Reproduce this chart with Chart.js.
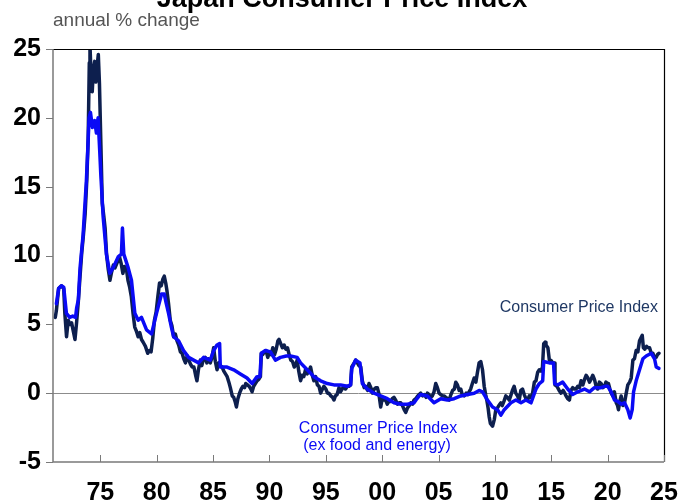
<!DOCTYPE html>
<html>
<head>
<meta charset="UTF-8">
<title>Japan Consumer Price Index</title>
<style>
  html, body { margin: 0; padding: 0; background: #fff; }
  #wrap { width: 678px; height: 501px; position: relative; }
</style>
</head>
<body>
<div id="wrap"><canvas id="cpiChart" width="678" height="501"></canvas></div>
<script src="https://cdn.jsdelivr.net/npm/chart.js@4/dist/chart.umd.min.js"></script>
<script>
// headline CPI, annual % change
const cpiDates = [
  1971.0, 1971.1, 1971.3, 1971.55, 1971.75, 1971.85, 1972.0, 1972.15, 1972.3, 1972.45, 1972.6, 1972.75, 1972.9,
  1973.05, 1973.2, 1973.35, 1973.5, 1973.65, 1973.8, 1973.92, 1974.02, 1974.08, 1974.18, 1974.28, 1974.38, 1974.5,
  1974.6, 1974.72, 1974.82, 1974.92, 1975.05, 1975.17, 1975.3, 1975.42, 1975.55, 1975.7, 1975.85, 1976.0, 1976.15,
  1976.3, 1976.5, 1976.7, 1976.85, 1977.0, 1977.15, 1977.3, 1977.45, 1977.6, 1977.75, 1977.9, 1978.05, 1978.2,
  1978.35, 1978.5, 1978.65, 1978.8, 1979.0, 1979.2, 1979.35, 1979.5, 1979.65, 1979.8, 1979.95, 1980.1, 1980.25,
  1980.4, 1980.55, 1980.67, 1980.8, 1980.9, 1981.05, 1981.2, 1981.35, 1981.5, 1981.65, 1981.8, 1981.95, 1982.1,
  1982.25, 1982.4, 1982.55, 1982.7, 1982.85, 1983.0, 1983.15, 1983.3, 1983.45, 1983.57, 1983.7, 1983.87, 1984.0,
  1984.15, 1984.3, 1984.45, 1984.6, 1984.75, 1984.9, 1985.05, 1985.2, 1985.35, 1985.5, 1985.65, 1985.8, 1985.95,
  1986.1, 1986.25, 1986.4, 1986.53, 1986.7, 1986.83, 1986.95, 1987.07, 1987.2, 1987.35, 1987.5, 1987.65, 1987.8,
  1987.9, 1988.05, 1988.2, 1988.35, 1988.46, 1988.6, 1988.75, 1988.9, 1989.05, 1989.2, 1989.28, 1989.4, 1989.55,
  1989.7, 1989.85, 1990.0, 1990.15, 1990.3, 1990.45, 1990.6, 1990.75, 1990.85, 1991.0, 1991.15, 1991.3, 1991.45,
  1991.6, 1991.75, 1991.9, 1992.05, 1992.2, 1992.35, 1992.46, 1992.6, 1992.76, 1992.9, 1993.05, 1993.2, 1993.35,
  1993.5, 1993.65, 1993.8, 1993.94, 1994.1, 1994.25, 1994.4, 1994.54, 1994.7, 1994.83, 1995.0, 1995.15, 1995.28,
  1995.45, 1995.6, 1995.72, 1995.85, 1996.0, 1996.17, 1996.3, 1996.45, 1996.61, 1996.75, 1996.9, 1997.05, 1997.2,
  1997.3, 1997.45, 1997.65, 1997.8, 1997.94, 1998.1, 1998.24, 1998.4, 1998.54, 1998.7, 1998.83, 1999.0, 1999.13,
  1999.3, 1999.45, 1999.57, 1999.7, 1999.87, 2000.0, 2000.15, 2000.31, 2000.45, 2000.6, 2000.76, 2000.9, 2001.05,
  2001.2, 2001.35, 2001.5, 2001.65, 2001.8, 2001.95, 2002.09, 2002.23, 2002.4, 2002.54, 2002.7, 2002.82, 2002.98,
  2003.15, 2003.28, 2003.42, 2003.6, 2003.75, 2003.9, 2004.01, 2004.15, 2004.3, 2004.45, 2004.6, 2004.75, 2004.9,
  2005.05, 2005.2, 2005.35, 2005.49, 2005.65, 2005.8, 2005.94, 2006.1, 2006.25, 2006.4, 2006.53, 2006.68, 2006.83,
  2006.97, 2007.1, 2007.27, 2007.45, 2007.6, 2007.71, 2007.85, 2008.0, 2008.16, 2008.31, 2008.45, 2008.6, 2008.75,
  2008.9, 2009.05, 2009.18, 2009.28, 2009.4, 2009.49, 2009.6, 2009.79, 2009.95, 2010.08, 2010.2, 2010.35, 2010.53,
  2010.65, 2010.8, 2010.97, 2011.1, 2011.27, 2011.4, 2011.55, 2011.71, 2011.85, 2012.0, 2012.16, 2012.3, 2012.45,
  2012.6, 2012.75, 2012.9, 2013.05, 2013.2, 2013.34, 2013.5, 2013.64, 2013.79, 2013.94, 2014.09, 2014.22, 2014.33,
  2014.45, 2014.53, 2014.7, 2014.83, 2014.95, 2015.13, 2015.28, 2015.33, 2015.5, 2015.7, 2015.87, 2016.05, 2016.2,
  2016.31, 2016.45, 2016.61, 2016.75, 2016.9, 2017.05, 2017.2, 2017.35, 2017.5, 2017.64, 2017.8, 2017.95, 2018.09,
  2018.25, 2018.39, 2018.52, 2018.68, 2018.83, 2018.98, 2019.12, 2019.27, 2019.42, 2019.57, 2019.72, 2019.85,
  2020.0, 2020.07, 2020.2, 2020.32, 2020.46, 2020.6, 2020.76, 2020.88, 2020.96, 2021.08, 2021.2, 2021.35, 2021.5,
  2021.65, 2021.79, 2021.95, 2022.09, 2022.24, 2022.38, 2022.53, 2022.68, 2022.83, 2022.95, 2023.07, 2023.17,
  2023.3, 2023.45, 2023.6, 2023.72, 2023.87, 2024.01, 2024.15, 2024.31, 2024.42, 2024.55
];
const cpiValues = [
  5.5, 6.0, 7.6, 7.8, 7.6, 5.8, 4.1, 5.3, 5.0, 5.1, 4.5, 3.9, 5.2,
  6.7, 8.5, 10.2, 11.5, 13.0, 15.5, 18.5, 24.0, 25.3, 23.0, 21.9, 23.5, 24.1,
  22.6, 23.8, 24.6, 22.5, 18.0, 13.8, 12.9, 12.0, 10.1, 9.0, 8.2, 8.8, 9.3,
  9.1, 9.5, 9.9, 9.4, 8.7, 9.2, 9.1, 8.2, 7.7, 7.0, 5.8, 4.8, 4.5,
  4.1, 4.4, 3.9, 3.7, 3.4, 2.9, 3.1, 3.0, 4.0, 5.3, 5.9, 7.0, 8.0,
  7.8, 8.3, 8.5, 8.0, 7.5, 6.5, 5.3, 4.9, 4.1, 4.3, 3.8, 3.5, 3.0,
  2.9, 2.5, 2.2, 2.7, 2.4, 2.1, 1.9, 1.9, 1.3, 0.9, 1.7, 2.4, 2.0,
  2.5, 2.6, 2.2, 2.5, 2.2, 2.6, 3.3, 2.3, 1.7, 2.2, 2.0, 1.9, 1.6,
  1.4, 1.2, 0.8, 0.4, -0.2, -0.3, -0.6, -1.0, -0.4, 0.0, 0.3, 0.5, 0.4,
  0.7, 0.6, 0.5, 0.3, 0.1, 0.5, 0.7, 0.9, 1.0, 1.2, 2.9, 2.8, 3.0,
  3.1, 2.6, 3.0, 2.8, 3.3, 2.8, 3.2, 3.8, 3.9, 3.6, 3.3, 3.5, 3.2,
  3.3, 2.8, 2.4, 2.3, 1.9, 2.1, 2.4, 1.6, 0.9, 1.3, 1.2, 1.7, 1.4,
  1.6, 1.9, 1.3, 0.9, 1.2, 0.6, 0.5, 0.0, 0.3, 0.5, 0.3, 0.0, 0.0,
  -0.2, -0.3, -0.5, -0.2, -0.1, 0.4, 0.1, 0.3, 0.5, 0.3, 0.5, 0.5, 0.6,
  1.9, 2.1, 2.4, 2.2, 2.0, 1.9, 0.9, 0.4, 0.5, 0.2, 0.7, 0.4, 0.0,
  0.3, 0.4, 0.4, 0.0, -1.0, -0.4, -0.5, -0.5, -0.8, -0.6, -0.6, -0.4, -0.3,
  -0.5, -0.8, -0.7, -0.7, -0.9, -1.2, -1.4, -1.1, -0.9, -0.7, -0.8, -0.5, -0.4,
  -0.2, -0.1, 0.0, -0.2, -0.1, -0.3, 0.0, -0.1, -0.3, -0.2, 0.1, 0.7, 0.4,
  0.0, -0.1, -0.2, -0.2, -0.3, -0.4, -0.5, -0.1, 0.2, 0.3, 0.8, 0.6, 0.2,
  0.3, -0.1, -0.2, 0.0, -0.1, 0.1, 0.3, 0.7, 1.1, 0.8, 1.5, 2.2, 2.3,
  1.7, 0.5, -0.1, -0.5, -1.1, -1.7, -2.2, -2.4, -1.9, -1.2, -1.1, -0.9, -0.7,
  -0.9, -0.6, -0.2, -0.3, -0.5, -0.2, 0.2, 0.5, 0.0, -0.2, -0.5, 0.2, 0.3,
  -0.1, -0.4, -0.5, -0.2, -0.3, 0.0, 0.8, 0.9, 1.5, 1.7, 1.6, 1.9, 3.6,
  3.7, 3.5, 3.3, 2.4, 2.4, 2.2, 2.2, 0.6, 0.5, 0.2, 0.0, 0.2, 0.0,
  -0.2, -0.4, -0.5, 0.2, 0.4, 0.3, 0.3, 0.5, 0.4, 0.9, 0.6, 1.0, 1.3,
  1.1, 0.8, 1.0, 1.3, 1.0, 0.5, 0.3, 0.8, 0.7, 0.4, 0.5, 0.8,
  0.7, 0.7, 0.3, 0.0, -0.2, 0.1, -0.7, -0.9, -1.2, -0.6, -0.2, -0.9, -0.7,
  0.0, 0.6, 0.8, 1.1, 2.4, 2.5, 3.1, 3.0, 3.8, 4.0, 4.2, 3.3,
  3.2, 3.4, 3.3, 3.3, 2.9, 2.9, 2.6, 2.6, 2.8, 2.9
];

// CPI ex food and energy, annual % change
const coreDates = [
  1971.1, 1971.3, 1971.55, 1971.75, 1971.99, 1972.28, 1972.55, 1972.8, 1972.9, 1973.05, 1973.2, 1973.47, 1973.76,
  1973.9, 1974.0, 1974.12, 1974.3, 1974.5, 1974.65, 1974.8, 1974.95, 1975.04, 1975.25, 1975.54, 1975.84, 1976.13,
  1976.58, 1976.87, 1976.96, 1977.08, 1977.47, 1977.76, 1978.06, 1978.36, 1978.65, 1979.1, 1979.54, 1979.98,
  1980.43, 1980.67, 1980.85, 1981.05, 1981.3, 1981.5, 1981.94, 1982.38, 1982.83, 1983.27, 1983.72, 1984.16,
  1984.75, 1985.05, 1985.35, 1985.58, 1985.64, 1986.24, 1986.83, 1987.42, 1988.01, 1988.46, 1988.9, 1989.15,
  1989.28, 1989.64, 1990.09, 1990.53, 1990.98, 1991.5, 1991.87, 1992.46, 1992.76, 1993.35, 1993.94, 1994.54,
  1995.13, 1995.72, 1996.31, 1996.91, 1997.2, 1997.3, 1997.65, 1998.03, 1998.24, 1998.68, 1999.28, 1999.87,
  2000.46, 2001.05, 2001.65, 2002.24, 2002.83, 2003.0, 2003.28, 2003.42, 2004.01, 2004.6, 2005.2, 2005.79,
  2006.38, 2006.97, 2007.57, 2008.16, 2008.6, 2008.9, 2009.34, 2009.79, 2010.23, 2010.53, 2010.83, 2011.42,
  2011.86, 2012.31, 2012.75, 2013.2, 2013.64, 2013.94, 2014.24, 2014.33, 2014.83, 2015.2, 2015.3, 2015.57,
  2016.01, 2016.46, 2016.9, 2017.35, 2017.94, 2018.39, 2018.83, 2019.42, 2019.75, 2020.01, 2020.31, 2020.61,
  2020.9, 2021.2, 2021.5, 2021.79, 2022.0, 2022.18, 2022.3, 2022.53, 2022.83, 2023.13, 2023.42, 2023.87,
  2024.16, 2024.31, 2024.55
];
const coreValues = [
  6.5, 7.6, 7.8, 7.7, 5.8, 5.5, 5.6, 5.5, 6.2, 6.8, 9.1, 11.5, 15.4,
  18.0, 20.0, 20.4, 19.3, 19.8, 18.9, 20.0, 17.5, 15.9, 12.8, 10.1, 8.7, 9.1,
  9.9, 10.1, 12.0, 10.1, 9.1, 8.2, 5.8, 5.3, 5.5, 4.6, 4.3, 5.8,
  7.2, 7.2, 6.5, 5.8, 4.8, 4.1, 3.8, 3.1, 2.6, 2.4, 2.2, 2.6,
  2.4, 3.1, 3.5, 3.6, 1.9, 1.9, 1.7, 1.4, 1.1, 0.7, 1.2, 1.2,
  2.9, 3.1, 3.0, 2.4, 2.6, 2.7, 2.7, 2.6, 2.2, 1.7, 1.2, 0.9,
  0.7, 0.6, 0.6, 0.5, 0.6, 1.8, 2.4, 2.2, 0.7, 0.3, 0.0, -0.2,
  -0.4, -0.7, -0.8, -0.8, -0.7, -0.5, -0.2, -0.1, -0.2, -0.7, -0.4, -0.5,
  -0.4, -0.2, -0.1, 0.0, 0.2, 0.1, -0.5, -1.0, -1.2, -1.6, -1.2, -0.7,
  -0.5, -0.7, -0.5, -0.7, 0.3, 0.7, 0.9, 2.3, 2.2, 2.2, 0.7, 0.6,
  0.8, 0.3, -0.1, 0.1, 0.3, 0.1, 0.4, 0.4, 0.5, 0.5, 0.1, -0.5,
  -0.6, -0.8, -0.7, -1.2, -1.8, -1.2, 0.1, 0.9, 1.7, 2.5, 2.7, 2.9,
  2.5, 1.9, 1.8
];

const yearTicks = [1975, 1980, 1985, 1990, 1995, 2000, 2005, 2010, 2015, 2020, 2025];

const navy = '#0d1f4e';
const blue = '#0a0af5';
const fontFamily = '"Liberation Sans", Arial, sans-serif';

function toPoints(dates, values) {
  return dates.map((d, i) => ({ x: d, y: values[i] }));
}

// frame, zero line, ticks and the text labels
const framePlugin = {
  id: 'frame',
  beforeDatasetsDraw(chart) {
    const { ctx, chartArea, scales } = chart;
    const y0 = Math.round(scales.y.getPixelForValue(0)) + 0.5;
    ctx.save();
    ctx.strokeStyle = '#8c8c8c';
    ctx.lineWidth = 1;
    ctx.beginPath();
    ctx.moveTo(chartArea.left, y0);
    ctx.lineTo(chartArea.right, y0);
    ctx.stroke();
    ctx.restore();
  },
  afterDraw(chart) {
    const { ctx, chartArea, scales } = chart;
    const { left, right, top, bottom } = chartArea;
    ctx.save();
    // top and right border
    ctx.strokeStyle = '#000';
    ctx.lineWidth = 1.2;
    ctx.beginPath();
    ctx.moveTo(left, top + 0.5);
    ctx.lineTo(right + 0.5, top + 0.5);
    ctx.lineTo(right + 0.5, bottom);
    ctx.stroke();
    // left and bottom axes
    ctx.strokeStyle = '#7a7a7a';
    ctx.lineWidth = 1.5;
    ctx.beginPath();
    ctx.moveTo(left, top);
    ctx.lineTo(left, bottom);
    ctx.lineTo(right, bottom);
    ctx.stroke();
    ctx.lineWidth = 1;
    ctx.beginPath();
    scales.y.ticks.forEach(t => {
      const py = Math.round(scales.y.getPixelForValue(t.value)) + 0.5;
      ctx.moveTo(left - 7, py);
      ctx.lineTo(left, py);
    });
    yearTicks.forEach(v => {
      const px = Math.round(scales.x.getPixelForValue(v)) + 0.5;
      ctx.moveTo(px, bottom);
      ctx.lineTo(px, bottom - 7);
    });
    ctx.stroke();

    // title, only its lower part is visible
    ctx.fillStyle = '#000';
    ctx.font = 'bold 27px ' + fontFamily;
    ctx.textAlign = 'center';
    ctx.textBaseline = 'alphabetic';
    ctx.fillText('Japan Consumer Price Index', 342, 7);

    ctx.fillStyle = '#555';
    ctx.font = '19px ' + fontFamily;
    ctx.textAlign = 'left';
    ctx.fillText('annual % change', 53, 26);

    ctx.font = '16px ' + fontFamily;
    ctx.fillStyle = '#1f3864';
    ctx.textAlign = 'right';
    ctx.fillText('Consumer Price Index', 658, 312);

    ctx.fillStyle = blue;
    ctx.textAlign = 'center';
    ctx.fillText('Consumer Price Index', 378, 433);
    ctx.fillText('(ex food and energy)', 377, 450);
    ctx.restore();
  }
};

new Chart(document.getElementById('cpiChart'), {
  type: 'line',
  data: {
    datasets: [
      {
        label: 'Consumer Price Index (ex food and energy)',
        data: toPoints(coreDates, coreValues),
        borderColor: blue,
        borderWidth: 3.5,
        order: 0
      },
      {
        label: 'Consumer Price Index',
        data: toPoints(cpiDates, cpiValues),
        borderColor: navy,
        borderWidth: 3.5,
        order: 1
      }
    ]
  },
  options: {
    responsive: false,
    animation: false,
    events: [],
    layout: { padding: { top: 49, right: 14, left: 0, bottom: 0 } },
    elements: {
      point: { radius: 0 },
      line: { tension: 0, borderJoinStyle: 'round', borderCapStyle: 'round' }
    },
    plugins: { legend: { display: false }, tooltip: { enabled: false } },
    scales: {
      x: {
        type: 'linear',
        min: 1970.8,
        max: 2025,
        grid: { display: false },
        border: { display: false },
        afterBuildTicks: scale => { scale.ticks = yearTicks.map(v => ({ value: v })); },
        afterFit: scale => {
          scale.height = 39;
          scale.paddingLeft = 0;
          scale.paddingRight = 0;
        },
        ticks: {
          autoSkip: false,
          maxRotation: 0,
          padding: 8,
          color: '#000',
          font: { family: fontFamily, size: 25, weight: 'bold' },
          callback: v => String(v % 100).padStart(2, '0')
        }
      },
      y: {
        min: -5,
        max: 25,
        grid: { display: false },
        border: { display: false },
        afterFit: scale => {
          scale.width = 53;
          scale.paddingTop = 0;
          scale.paddingBottom = 0;
        },
        ticks: {
          stepSize: 5,
          padding: 4,
          color: '#000',
          font: { family: fontFamily, size: 25, weight: 'bold' }
        }
      }
    }
  },
  plugins: [framePlugin]
});
</script>
</body>
</html>
